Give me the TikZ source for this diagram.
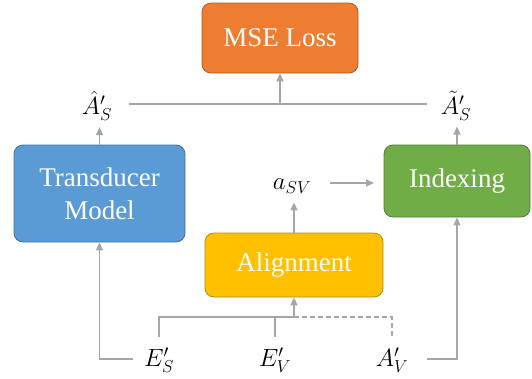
\documentclass[tikz,border=0pt]{standalone}
\usepackage{fontspec}
\newfontfamily\boxfont{Liberation Serif}
\usetikzlibrary{arrows.meta}
\definecolor{cOr}{HTML}{ED7D31}
\definecolor{cOrD}{HTML}{AE5A21}
\definecolor{cBl}{HTML}{5B9BD5}
\definecolor{cBlD}{HTML}{41719C}
\definecolor{cGr}{HTML}{70AD47}
\definecolor{cGrD}{HTML}{507E32}
\definecolor{cYe}{HTML}{FFC000}
\definecolor{cYeD}{HTML}{BC8C00}
\definecolor{cLn}{HTML}{A6A6A6}
\begin{document}
\begin{tikzpicture}[x=1pt,y=-1pt,
  box/.style={rounded corners=9pt, line width=0.8pt, text=white, align=center,
    font=\boxfont\fontsize{27}{33}\selectfont, inner sep=0pt},
  lbl/.style={inner sep=0pt, font=\fontsize{24}{27}\selectfont},
  conn/.style={draw=cLn, line width=1.4pt},
  arr/.style={conn, -{Triangle[length=8pt,width=7pt]}},
  dconn/.style={conn, dash pattern=on 5pt off 3pt}]
\useasboundingbox (0,0) rectangle (532,378);
\node[box, fill=cOr, draw=cOrD, minimum width=156pt, minimum height=70pt] (mse) at (280,38) {MSE Loss};
\node[box, fill=cBl, draw=cBlD, minimum width=171pt, minimum height=97pt] (trans) at (99.5,193.5) {Transducer\\Model};
\node[box, fill=cGr, draw=cGrD, minimum width=146pt, minimum height=72pt] (idx) at (457,181) {Indexing};
\node[box, fill=cYe, draw=cYeD, minimum width=178pt, minimum height=64pt] (align) at (294,265) {Alignment};
\node[lbl] (ahat) at (97,106) {$\hat{A}'_S$};
\node[lbl] (atil) at (456,106) {$\tilde{A}'_S$};
\node[lbl] (asv) at (292,186) {$a_{SV}$};
\node[lbl] (es) at (159,360) {$E'_S$};
\node[lbl] (ev) at (275,360) {$E'_V$};
\node[lbl] (av) at (392,360) {$A'_V$};
\coordinate (hl) at (129,104);
\coordinate (hr) at (427,104);
\coordinate (mj) at (mse.south |- hl);
\draw[conn] (hl) -- (hr);
\draw[arr] (mj) -- (mse.south);
\draw[arr] (trans.north) -- ([yshift=-6pt]trans.north |- ahat.south);
\draw[arr] (idx.north) -- ([yshift=-6pt]idx.north |- atil.south);
\coordinate (sa) at (330,183);
\coordinate (sb) at (374,183);
\draw[arr] (sa) -- (sb);
\draw[arr] (align.north) -- ([yshift=-9pt]align.north |- asv.south);
\coordinate (bj) at (align.south |- 0,317);
\draw[conn] ([yshift=10pt]es.north) |- (bj);
\draw[conn] ([yshift=10pt]ev.north) -- (ev.north |- bj);
\draw[arr] (bj) -- (align.south);
\draw[dconn] (bj) -| ([yshift=9pt]av.north);
\coordinate (el) at (133,359);
\coordinate (er) at (427,359);
\draw[arr] (el) -| (trans.south);
\draw[arr] (er) -| (idx.south);
\end{tikzpicture}
\end{document}
